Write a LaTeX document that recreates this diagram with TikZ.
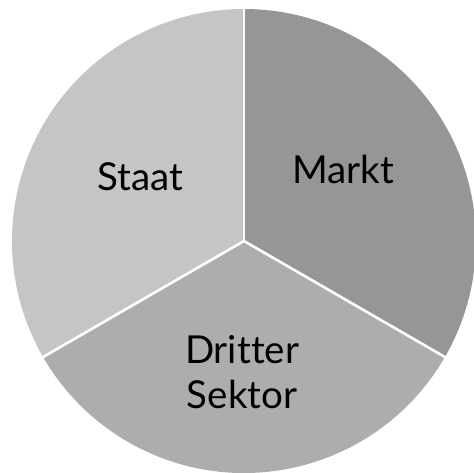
\documentclass[tikz,border=0pt]{standalone}
\usepackage{fontspec}
\setmainfont{Lato}[Ligatures={NoCommon}]
\usetikzlibrary{calc}
\begin{document}
\begin{tikzpicture}[x=1pt,y=1pt,
  lbl/.style={font=\fontsize{38.5}{45}\selectfont, text=black, align=center, inner sep=0pt},
  sep/.style={draw=white, line width=2.6pt}]
\useasboundingbox (0,0) rectangle (474,-472);
\clip (0,0) rectangle (474,-472);
\coordinate (c) at (244,-241);
\def\R{232}
\fill[fill={rgb,255:red,150;green,150;blue,150}] (c) -- ++(90:\R) arc[start angle=90, end angle=-30, radius=\R] -- cycle;
\fill[fill={rgb,255:red,173;green,173;blue,173}] (c) -- ++(-30:\R) arc[start angle=-30, end angle=-150, radius=\R] -- cycle;
\fill[fill={rgb,255:red,197;green,197;blue,197}] (c) -- ++(210:\R) arc[start angle=210, end angle=90, radius=\R] -- cycle;
\coordinate (e1) at ($(c)+(90:\R+2)$);
\coordinate (e2) at ($(c)+(-30:\R+2)$);
\coordinate (e3) at ($(c)+(210:\R+2)$);
\draw[sep] (c) -- (e1);
\draw[sep] (c) -- (e2);
\draw[sep] (c) -- (e3);
\node[lbl, anchor=base] (staat) at (140,-190) {Staat};
\node[lbl, anchor=base] (markt) at (343,-183) {Markt};
\node[lbl, anchor=base] (dritter) at (242,-363) {Dritter};
\node[lbl, anchor=base] (sektor) at (242,-408) {Sektor};
\end{tikzpicture}
\end{document}
